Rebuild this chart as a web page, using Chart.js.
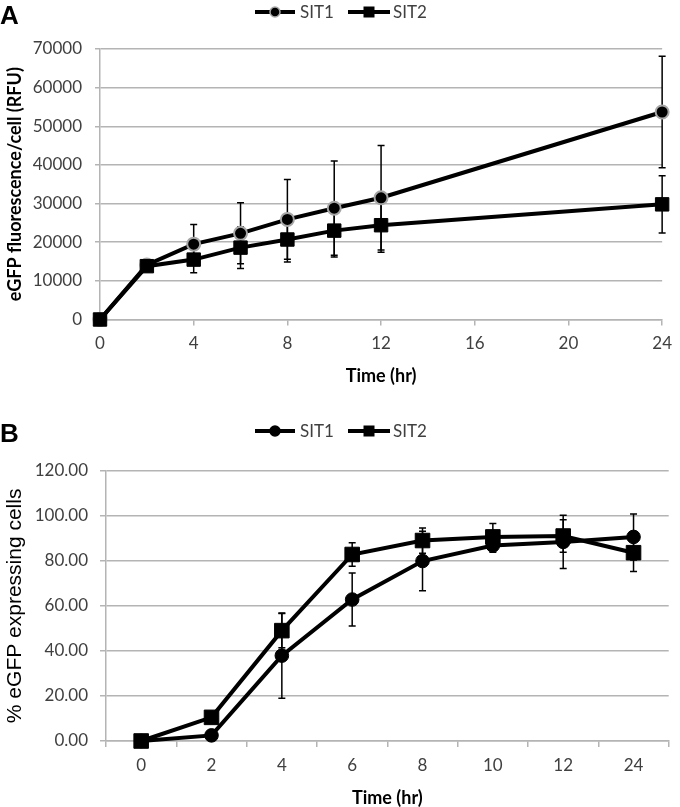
<!DOCTYPE html>
<html><head><meta charset="utf-8">
<script src="https://cdn.jsdelivr.net/npm/chart.js@4.4.0/dist/chart.umd.min.js"></script>
<style>
html,body{margin:0;padding:0;background:#fff;width:680px;height:807px;overflow:hidden}
#wa{position:absolute;left:0;top:0;width:680px;height:400px}
#wb{position:absolute;left:0;top:400px;width:680px;height:407px}
.pl{position:absolute;font:bold 26px "Liberation Sans",Arial,sans-serif;color:#000;line-height:1}
</style></head><body>
<div id="wa"><canvas id="ca"></canvas></div>
<div id="wb"><canvas id="cb"></canvas></div>
<div class="pl" style="left:0;top:2px">A</div>
<div class="pl" style="left:0;top:420px">B</div>
<script>
// ---------- Panel A data ----------
const hoursA = [0, 2, 4, 6, 8, 10, 12, 24];
const sit1A = [0, 14100, 19500, 22300, 25900, 28800, 31500, 53700];
const sit1AErr = [0, 1000, 5100, 7900, 10300, 12200, 13500, 14400];
const sit2A = [0, 13800, 15500, 18600, 20700, 23000, 24400, 29800];
const sit2AErr = [0, 1200, 3400, 5400, 5800, 6800, 7000, 7400];
const xTicksA = [0, 4, 8, 12, 16, 20, 24];
const yTicksA = [0, 10000, 20000, 30000, 40000, 50000, 60000, 70000];

// ---------- Panel B data ----------
const hoursB = ['0', '2', '4', '6', '8', '10', '12', '24'];
const sit1B = [0, 2.5, 37.9, 62.8, 79.9, 86.8, 88.4, 90.6];
const sit1BErr = [0, 1.0, 18.9, 11.8, 13.2, 3.0, 11.8, 10.2];
const sit2B = [0, 10.5, 49.0, 82.8, 89.0, 90.6, 91.0, 83.6];
const sit2BErr = [0, 1.5, 7.6, 5.2, 5.6, 6.0, 7.2, 8.4];
const yTicksB = [0, 20, 40, 60, 80, 100, 120];
const yLabelsB = ['0.00', '20.00', '40.00', '60.00', '80.00', '100.00', '120.00'];

const seriesNames = ['SIT1', 'SIT2'];

const GRID = '#b4b4b4';
const TICKC = '#404040';
const tickFont = {family: 'Lato', size: 17};

const errorBars = {
  id: 'errorBars',
  beforeDatasetsDraw(chart) {
    const {ctx} = chart;
    const y = chart.scales.y;
    ctx.save();
    ctx.strokeStyle = '#000';
    ctx.lineWidth = 1.5;
    chart.data.datasets.forEach((ds, di) => {
      const meta = chart.getDatasetMeta(di);
      meta.data.forEach((pt, i) => {
        const e = ds.errors ? ds.errors[i] : 0;
        if (!e) return;
        const raw = ds.data[i];
        const val = typeof raw === 'object' ? raw.y : raw;
        const px = pt.x;
        const yt = y.getPixelForValue(val + e);
        const yb = y.getPixelForValue(val - e);
        const c = 3.5;
        ctx.beginPath();
        ctx.moveTo(px, yt); ctx.lineTo(px, yb);
        ctx.moveTo(px - c, yt); ctx.lineTo(px + c, yt);
        ctx.moveTo(px - c, yb); ctx.lineTo(px + c, yb);
        ctx.stroke();
      });
    });
    ctx.restore();
  }
};

const lineLegend = {
  id: 'lineLegend',
  afterDraw(chart, args, opts) {
    const {ctx} = chart;
    ctx.save();
    opts.items.forEach((it, k) => {
      const ds = chart.data.datasets[k];
      ctx.strokeStyle = '#000';
      ctx.lineWidth = 4;
      ctx.beginPath();
      ctx.moveTo(it.x0, opts.y); ctx.lineTo(it.x1, opts.y);
      ctx.stroke();
      const cx = (it.x0 + it.x1) / 2;
      ctx.fillStyle = '#000';
      if (ds.pointStyle === 'circle') {
        ctx.beginPath();
        ctx.arc(cx, opts.y, 5, 0, Math.PI * 2);
        ctx.fill();
        ctx.lineWidth = 1.5;
        ctx.strokeStyle = ds.pointBorderColor;
        ctx.stroke();
      } else {
        ctx.fillRect(cx - 5.5, opts.y - 5.5, 11, 11);
      }
      ctx.fillStyle = '#404040';
      ctx.font = '17px Lato';
      ctx.textBaseline = 'middle';
      ctx.textAlign = 'left';
      ctx.fillText(ds.label, it.tx, opts.y + 1);
    });
    ctx.restore();
  }
};

// ---------- Chart A ----------
new Chart(document.getElementById('ca'), {
  type: 'line',
  data: {
    datasets: [
      {
        label: seriesNames[0],
        data: hoursA.map((h, i) => ({x: h, y: sit1A[i]})),
        errors: sit1AErr, clip: false,
        borderColor: '#000', borderWidth: 4,
        pointStyle: 'circle', pointRadius: 6.5, pointHoverRadius: 6.5,
        pointBackgroundColor: '#000', pointBorderColor: '#a6a6a6', pointBorderWidth: 2,
        order: 1
      },
      {
        label: seriesNames[1],
        data: hoursA.map((h, i) => ({x: h, y: sit2A[i]})),
        errors: sit2AErr, clip: false,
        borderColor: '#000', borderWidth: 4,
        pointStyle: 'rect', pointRadius: 9.5, pointHoverRadius: 9.5,
        pointBackgroundColor: '#000', pointBorderColor: '#000', pointBorderWidth: 1,
        order: 0
      }
    ]
  },
  options: {
    responsive: true, maintainAspectRatio: false, animation: false,
    layout: {padding: {top: 49, right: 11, left: 0, bottom: 0}},
    plugins: {
      legend: {display: false}, tooltip: {enabled: false},
      lineLegend: {y: 12, items: [{x0: 255, x1: 295, tx: 300}, {x0: 348, x1: 390, tx: 393}]}
    },
    scales: {
      x: {
        type: 'linear', min: 0, max: 24,
        afterBuildTicks: s => { s.ticks = xTicksA.map(v => ({value: v})); },
        afterFit: s => { s.height = 80.5; },
        grid: {display: true, drawOnChartArea: false, drawTicks: true, tickLength: 6, color: GRID, lineWidth: 1.5},
        border: {display: true, color: GRID, width: 1.5},
        ticks: {font: tickFont, color: TICKC, padding: 8, maxRotation: 0, callback: v => String(v)},
        title: {display: true, text: 'Time (hr)', font: {family: 'Lato', size: 18, weight: 'bold', lineHeight: 1}, color: '#000', padding: {top: 0, bottom: 15}}
      },
      y: {
        min: 0, max: 70000,
        afterBuildTicks: s => { s.ticks = yTicksA.map(v => ({value: v})); },
        afterFit: s => { s.width = 100; },
        grid: {display: true, drawOnChartArea: true, drawTicks: true, tickLength: 5, color: GRID, lineWidth: 1.5},
        border: {display: true, color: GRID, width: 1.5},
        ticks: {font: tickFont, color: TICKC, padding: 13, callback: v => String(v)},
        title: {display: true, text: 'eGFP fluorescence/cell (RFU)', font: {family: 'Lato', size: 18, weight: 'bold', lineHeight: 1}, color: '#000', padding: {top: 6, bottom: 0}}
      }
    }
  },
  plugins: [errorBars, lineLegend]
});

// ---------- Chart B ----------
new Chart(document.getElementById('cb'), {
  type: 'line',
  data: {
    labels: hoursB,
    datasets: [
      {
        label: seriesNames[0], data: sit1B, errors: sit1BErr, clip: false,
        borderColor: '#000', borderWidth: 4,
        pointStyle: 'circle', pointRadius: 6.8, pointHoverRadius: 6.8,
        pointBackgroundColor: '#000', pointBorderColor: '#000', pointBorderWidth: 1,
        order: 1
      },
      {
        label: seriesNames[1], data: sit2B, errors: sit2BErr, clip: false,
        borderColor: '#000', borderWidth: 4,
        pointStyle: 'rect', pointRadius: 10.3, pointHoverRadius: 10.3,
        pointBackgroundColor: '#000', pointBorderColor: '#000', pointBorderWidth: 1,
        order: 0
      }
    ]
  },
  options: {
    responsive: true, maintainAspectRatio: false, animation: false,
    layout: {padding: {top: 70.7, right: 1, left: 0, bottom: 0}},
    plugins: {
      legend: {display: false}, tooltip: {enabled: false},
      lineLegend: {y: 31, items: [{x0: 255, x1: 295, tx: 300}, {x0: 348, x1: 390, tx: 393}]}
    },
    scales: {
      x: {
        type: 'category', offset: true,
        afterFit: s => { s.height = 66; },
        grid: {display: true, offset: true, drawOnChartArea: false, drawTicks: true, tickLength: 6, color: GRID, lineWidth: 1.5},
        border: {display: true, color: GRID, width: 1.5},
        ticks: {font: tickFont, color: TICKC, padding: 8, maxRotation: 0},
        title: {display: true, text: 'Time (hr)', font: {family: 'Lato', size: 18, weight: 'bold', lineHeight: 1}, color: '#000', padding: {top: 0, bottom: 0}}
      },
      y: {
        min: 0, max: 120,
        afterBuildTicks: s => { s.ticks = yTicksB.map(v => ({value: v})); },
        afterFit: s => { s.width = 106; },
        grid: {display: true, drawOnChartArea: true, drawTicks: true, tickLength: 6, color: GRID, lineWidth: 1.5},
        border: {display: true, color: GRID, width: 1.5},
        ticks: {font: tickFont, color: TICKC, padding: 12, callback: (v, i) => yLabelsB[i]},
        title: {display: true, text: '% eGFP expressing cells', font: {family: 'Liberation Sans', size: 21, lineHeight: 1}, color: '#000', padding: {top: 5, bottom: 0}}
      }
    }
  },
  plugins: [errorBars, lineLegend]
});
</script></body></html>
